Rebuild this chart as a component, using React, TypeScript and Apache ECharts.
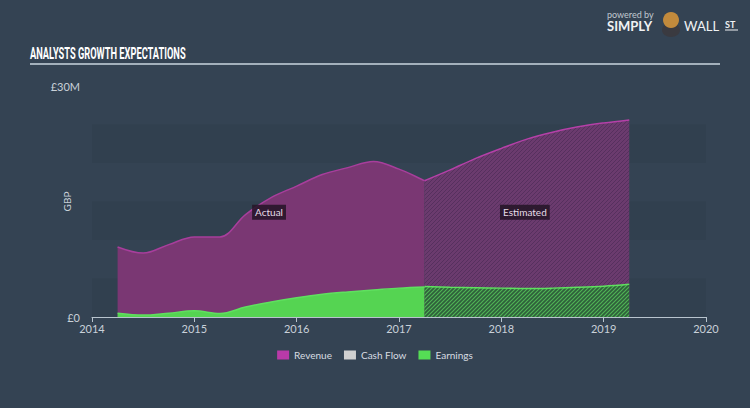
import React, { useEffect, useRef } from "react";
import * as echarts from "echarts";

const actualX = [2014.25, 2014.5, 2014.75, 2015, 2015.25, 2015.5, 2015.75, 2016, 2016.25, 2016.5, 2016.75, 2017, 2017.25];
const revenueActual = [9.1, 8.3, 9.4, 10.4, 10.4, 13.3, 15.5, 17.0, 18.5, 19.4, 20.2, 19.2, 17.7];
const earningsActual = [0.5, 0.25, 0.5, 0.8, 0.45, 1.3, 1.95, 2.5, 2.95, 3.25, 3.5, 3.75, 3.9];

const estimateX = [2017.25, 2017.5, 2017.75, 2018, 2018.25, 2018.5, 2018.75, 2019, 2019.25];
const revenueEstimate = [17.7, 19.1, 20.6, 21.9, 23.1, 24.0, 24.7, 25.2, 25.6];
const earningsEstimate = [3.95, 3.85, 3.8, 3.75, 3.7, 3.75, 3.85, 4.0, 4.25];

const legendNames = ["Revenue", "Cash Flow", "Earnings"];
const yTickLabels: Record<number, string> = { 0: "£0", 30: "£30M" };

const pair = (xs: number[], ys: number[]) => xs.map((x, i) => [x, ys[i]]);

function hatch(bg: string, fg: string, size: number, width: number) {
  const c = document.createElement("canvas");
  c.width = size;
  c.height = size;
  const ctx = c.getContext("2d")!;
  ctx.fillStyle = bg;
  ctx.fillRect(0, 0, size, size);
  ctx.strokeStyle = fg;
  ctx.lineWidth = width;
  ctx.beginPath();
  ctx.moveTo(-1, size + 1);
  ctx.lineTo(size + 1, -1);
  ctx.moveTo(-1, 1);
  ctx.lineTo(1, -1);
  ctx.moveTo(size - 1, size + 1);
  ctx.lineTo(size + 1, size - 1);
  ctx.stroke();
  return {
    image: c.toDataURL(),
    repeat: "repeat",
    imageWidth: size,
    imageHeight: size,
  } as any;
}

export default function App() {
  const ref = useRef<HTMLDivElement>(null);
  useEffect(() => {
    if (!ref.current) return;
    const chart = echarts.init(ref.current, undefined, { renderer: "svg" });
    const purpleHatch = hatch("#6b3b6e", "#56305e", 4, 1);
    const greenHatch = hatch("#2f5f3b", "#50b456", 4, 1.2);
    const font = "Lato";
    chart.setOption({
      animation: false,
      backgroundColor: "#344353",
      grid: { left: 92, right: 44, top: 86, bottom: 91 },
      legend: {
        bottom: 43,
        left: "center",
        icon: "rect",
        itemWidth: 12,
        itemHeight: 9,
        itemGap: 12,
        textStyle: { color: "#d8dde2", fontSize: 10, fontFamily: font },
        data: [
          { name: legendNames[0], itemStyle: { color: "#b93aa8" } },
          { name: legendNames[1], itemStyle: { color: "#d0d0d0" } },
          { name: legendNames[2], itemStyle: { color: "#55dd55" } },
        ],
      },
      xAxis: {
        type: "value",
        min: 2014,
        max: 2020,
        interval: 1,
        axisLine: { show: true, lineStyle: { color: "#b8c4ce", width: 1 } },
        axisTick: { show: true, length: 5, lineStyle: { color: "#b8c4ce" } },
        axisLabel: { color: "#c9d1d9", fontSize: 11, fontFamily: font, margin: 6, formatter: (v: number) => String(v) },
        splitLine: { show: false },
      },
      yAxis: {
        type: "value",
        min: 0,
        max: 30,
        interval: 5,
        name: "GBP",
        nameLocation: "middle",
        nameGap: 20,
        nameMoveOverlap: false,
        nameTextStyle: { color: "#c9d1d9", fontSize: 10, fontFamily: font },
        axisLine: { show: false },
        axisTick: { show: false },
        axisLabel: {
          color: "#c9d1d9",
          fontSize: 11,
          fontFamily: font,
          margin: 12,
          formatter: (v: number) => yTickLabels[v] ?? "",
        },
        splitLine: { show: false },
        splitArea: { show: true, areaStyle: { color: ["rgba(25,35,45,0.1)", "rgba(0,0,0,0)"] } },
      },
      series: [
        {
          name: "Revenue",
          type: "line",
          data: pair(actualX, revenueActual),
          smooth: 0.35,
          symbol: "none",
          z: 1,
          lineStyle: { color: "#a83e9c", width: 1.5 },
          itemStyle: { color: "#b93aa8" },
          areaStyle: { color: "#7a3773", opacity: 1 },
        },
        {
          name: "Revenue",
          type: "line",
          data: pair(estimateX, revenueEstimate),
          smooth: 0.35,
          symbol: "none",
          z: 1,
          lineStyle: { color: "#b540a8", width: 1.5 },
          itemStyle: { color: "#b93aa8" },
          areaStyle: { color: purpleHatch, opacity: 1 },
        },
        {
          name: "Cash Flow",
          type: "line",
          data: [],
          symbol: "none",
          itemStyle: { color: "#d0d0d0" },
        },
        {
          name: "Earnings",
          type: "line",
          data: pair(actualX, earningsActual),
          smooth: 0.35,
          symbol: "none",
          z: 2,
          lineStyle: { color: "#5fe05f", width: 1.5 },
          itemStyle: { color: "#55dd55" },
          areaStyle: { color: "#55d452", opacity: 1 },
        },
        {
          name: "Earnings",
          type: "line",
          data: pair(estimateX, earningsEstimate),
          smooth: 0.35,
          symbol: "none",
          z: 2,
          lineStyle: { color: "#5fe05f", width: 1.5 },
          itemStyle: { color: "#55dd55" },
          areaStyle: { color: greenHatch, opacity: 1 },
        },
      ],
    });

    const pActual = chart.convertToPixel({ gridIndex: 0 }, [2015.73, 13.6]) as number[];
    const pEst = chart.convertToPixel({ gridIndex: 0 }, [2018.23, 13.6]) as number[];
    const boxText = (text: string, p: number[]) => ({
      type: "text",
      x: p[0],
      y: p[1],
      z: 10,
      style: {
        text,
        fill: "#e6dde8",
        fontSize: 10,
        fontFamily: font,
        align: "center",
        verticalAlign: "middle",
        backgroundColor: "rgba(38,22,40,0.88)",
        padding: [3, 3, 2, 3],
      },
    });

    chart.setOption({
      graphic: [
        {
          type: "text",
          x: 30,
          y: 53,
          scaleX: 0.58,
          style: {
            text: "ANALYSTS GROWTH EXPECTATIONS",
            fill: "#ffffff",
            fontSize: 16,
            fontWeight: "bold",
            fontFamily: "Roboto",
            verticalAlign: "middle",
          },
        },
        {
          type: "line",
          shape: { x1: 30, y1: 64, x2: 720, y2: 64 },
          style: { stroke: "#c8d4de", lineWidth: 1.5 },
        },
        boxText("Actual", pActual),
        boxText("Estimated", pEst),
        {
          type: "text",
          x: 607,
          y: 14,
          style: { text: "powered by", fill: "#c0c8d0", fontSize: 9, fontFamily: font, verticalAlign: "middle" },
        },
        {
          type: "text",
          x: 607,
          y: 26,
          style: { text: "SIMPLY", fill: "#f0f2f4", fontSize: 13, fontWeight: "bold", fontFamily: font, verticalAlign: "middle" },
        },
        {
          type: "ellipse",
          shape: { cx: 671, cy: 30, rx: 9, ry: 7 },
          style: { fill: "#3a3a40" },
        },
        {
          type: "circle",
          shape: { cx: 671, cy: 20, r: 8 },
          style: { fill: "#c28a3c" },
        },
        {
          type: "text",
          x: 684,
          y: 26,
          style: { text: "WALL", fill: "#f0f2f4", fontSize: 13, fontFamily: font, verticalAlign: "middle" },
        },
        {
          type: "text",
          x: 725,
          y: 24,
          style: { text: "ST", fill: "#f0f2f4", fontSize: 9, fontWeight: "bold", fontFamily: font, verticalAlign: "middle" },
        },
        {
          type: "line",
          shape: { x1: 725, y1: 30, x2: 738, y2: 30 },
          style: { stroke: "#f0f2f4", lineWidth: 1 },
        },
      ],
    });

    return () => chart.dispose();
  }, []);
  return <div ref={ref} style={{ position: "fixed", left: 0, top: 0, width: 750, height: 408 }} />;
}
